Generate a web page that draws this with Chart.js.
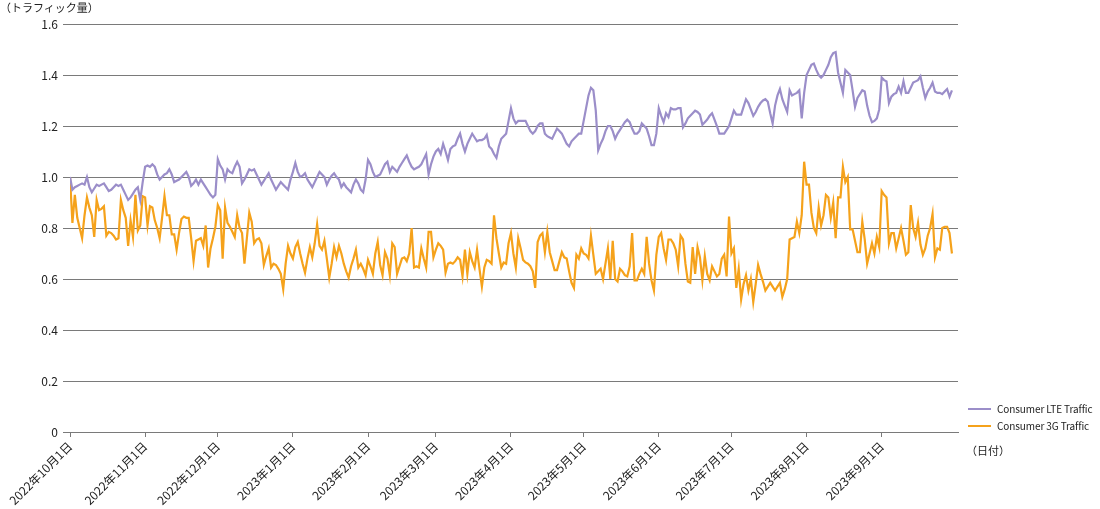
<!DOCTYPE html>
<html>
<head>
<meta charset="utf-8">
<script src="https://cdn.jsdelivr.net/npm/chart.js@4.4.1/dist/chart.umd.min.js"></script>
<style>
  html, body { margin: 0; padding: 0; background: #fff; }
  #wrap { position: relative; width: 1100px; height: 509px; font-family: "Noto Sans CJK JP", "Noto Sans", sans-serif; color: #222; }
  canvas { position: absolute; left: 0; top: 0; }
  .txt { position: absolute; font-size: 11px; white-space: nowrap; line-height: 14px; }
  .leg { position: absolute; left: 968px; font-size: 10px; letter-spacing: -0.1px; line-height: 14px; white-space: nowrap; }
  .leg span.sw { display: inline-block; width: 23px; height: 2px; vertical-align: middle; margin-right: 6px; position: relative; top: -1px; }
</style>
</head>
<body>
<div id="wrap">
  <canvas id="c" width="1100" height="509"></canvas>
  <div class="txt" style="left:0px; top:0px;">（トラフィック量）</div>
  <div class="leg" style="top:402px;"><span class="sw" style="background:#9b8ec9"></span>Consumer LTE Traffic</div>
  <div class="leg" style="top:419px;"><span class="sw" style="background:#f5a21b"></span>Consumer 3G Traffic</div>
  <div class="txt" style="left:966px; top:443px;">（日付）</div>
</div>
<script>
// Day index 0 = 2022-10-01 ... 364 = 2023-09-30
const monthTickDays = [0, 31, 61, 92, 123, 151, 182, 212, 243, 273, 304, 335];
const monthLabels = ['2022年10月1日', '2022年11月1日', '2022年12月1日', '2023年1月1日', '2023年2月1日', '2023年3月1日',
  '2023年4月1日', '2023年5月1日', '2023年6月1日', '2023年7月1日', '2023年8月1日', '2023年9月1日'];
const seriesNames = ['Consumer LTE Traffic', 'Consumer 3G Traffic'];

const lteOct = [1.00,0.95,0.96,0.965,0.97,0.975,0.97,1.00,0.96,0.94,0.955,0.97,0.965,0.97,0.975,0.96,0.945,0.95,0.96,0.97,0.965,0.97,0.95,0.93,0.91,0.92,0.935,0.95,0.96,0.91,0.98];
const lteNov = [1.04,1.045,1.04,1.05,1.04,1.01,0.99,1.00,1.01,1.015,1.03,1.01,0.98,0.985,0.99,1.00,1.01,1.02,1.00,0.965,0.975,0.99,0.97,0.99,0.975,0.96,0.945,0.93,0.92,0.93];
const lteDec = [1.07,1.045,1.03,0.99,1.03,1.02,1.015,1.04,1.06,1.04,0.975,0.99,1.01,1.03,1.025,1.03,1.01,0.99,0.97,0.985,1.00,1.015,0.99,0.97,0.95,0.965,0.98,0.97,0.96,0.95,0.99];
const lteJan = [1.02,1.055,1.02,1.00,1.005,1.015,0.99,0.975,0.96,0.98,1.00,1.02,1.01,1.00,0.97,0.99,1.005,1.015,1.00,0.99,0.96,0.975,0.96,0.95,0.94,0.97,0.99,0.975,0.95,0.94,0.99];
const lteFeb = [1.067,1.05,1.02,1.00,1.005,1.01,1.03,1.05,1.06,1.02,1.04,1.03,1.02,1.04,1.055,1.07,1.085,1.06,1.04,1.03,1.035,1.04,1.05,1.07,1.09,1.01,1.05,1.08];
const lteMar = [1.10,1.11,1.09,1.13,1.10,1.067,1.11,1.12,1.125,1.15,1.17,1.13,1.10,1.13,1.15,1.17,1.155,1.14,1.145,1.145,1.15,1.165,1.12,1.11,1.09,1.075,1.12,1.15,1.16,1.17,1.22];
const lteApr = [1.27,1.23,1.21,1.22,1.22,1.22,1.22,1.20,1.18,1.17,1.18,1.20,1.21,1.21,1.17,1.16,1.155,1.15,1.17,1.19,1.18,1.17,1.15,1.13,1.12,1.14,1.15,1.16,1.17,1.17];
const lteMay = [1.22,1.27,1.32,1.35,1.34,1.26,1.105,1.13,1.15,1.18,1.20,1.20,1.18,1.15,1.17,1.185,1.20,1.215,1.225,1.215,1.19,1.17,1.17,1.18,1.21,1.20,1.19,1.16,1.125,1.125,1.17];
const lteJun = [1.27,1.24,1.215,1.25,1.235,1.27,1.265,1.265,1.27,1.27,1.195,1.21,1.23,1.24,1.25,1.26,1.255,1.245,1.205,1.215,1.225,1.24,1.25,1.225,1.20,1.17,1.17,1.17,1.185,1.20];
const lteJul = [1.23,1.26,1.245,1.245,1.245,1.275,1.305,1.29,1.265,1.24,1.255,1.275,1.29,1.30,1.305,1.295,1.25,1.21,1.28,1.32,1.345,1.305,1.28,1.255,1.34,1.32,1.325,1.33,1.34,1.23,1.33];
const lteAug = [1.40,1.42,1.44,1.445,1.42,1.40,1.39,1.40,1.42,1.44,1.47,1.486,1.49,1.41,1.37,1.33,1.42,1.41,1.40,1.34,1.275,1.31,1.325,1.34,1.335,1.28,1.24,1.215,1.22,1.23,1.265];
const lteSep = [1.39,1.38,1.375,1.29,1.315,1.325,1.33,1.355,1.33,1.375,1.33,1.33,1.35,1.37,1.375,1.38,1.395,1.35,1.31,1.335,1.35,1.37,1.335,1.33,1.33,1.325,1.335,1.345,1.315,1.34];

const g3Oct = [1.00,0.82,0.93,0.84,0.80,0.76,0.85,0.92,0.88,0.85,0.765,0.91,0.87,0.875,0.885,0.77,0.785,0.78,0.77,0.755,0.76,0.91,0.87,0.84,0.73,0.83,0.765,0.93,0.79,0.81,0.925];
const g3Nov = [0.92,0.81,0.885,0.88,0.83,0.80,0.76,0.84,0.925,0.85,0.85,0.775,0.775,0.715,0.78,0.835,0.845,0.84,0.84,0.76,0.67,0.75,0.755,0.76,0.73,0.81,0.645,0.72,0.76,0.805];
const g3Dec = [0.89,0.87,0.68,0.88,0.82,0.805,0.785,0.765,0.85,0.80,0.78,0.66,0.76,0.86,0.825,0.74,0.755,0.76,0.74,0.655,0.69,0.72,0.645,0.66,0.655,0.64,0.62,0.56,0.66,0.73,0.70];
const g3Jan = [0.68,0.725,0.745,0.70,0.66,0.625,0.68,0.725,0.685,0.74,0.815,0.73,0.715,0.75,0.68,0.605,0.66,0.725,0.685,0.73,0.70,0.66,0.63,0.605,0.65,0.68,0.715,0.645,0.66,0.64,0.615];
const g3Feb = [0.675,0.65,0.62,0.70,0.745,0.655,0.615,0.705,0.68,0.615,0.74,0.725,0.62,0.65,0.68,0.685,0.67,0.70,0.80,0.645,0.65,0.645,0.72,0.68,0.645,0.785,0.785,0.685];
const g3Mar = [0.715,0.74,0.73,0.715,0.625,0.66,0.665,0.66,0.67,0.685,0.675,0.61,0.715,0.62,0.705,0.67,0.645,0.715,0.64,0.57,0.645,0.675,0.67,0.66,0.85,0.76,0.70,0.645,0.665,0.66,0.74];
const g3Apr = [0.78,0.70,0.645,0.76,0.72,0.675,0.665,0.66,0.65,0.63,0.565,0.745,0.77,0.78,0.705,0.785,0.705,0.67,0.635,0.635,0.67,0.705,0.685,0.68,0.63,0.585,0.565,0.695,0.68,0.72];
const g3May = [0.70,0.695,0.68,0.77,0.695,0.62,0.63,0.64,0.60,0.66,0.72,0.60,0.75,0.60,0.59,0.64,0.63,0.615,0.61,0.65,0.78,0.595,0.595,0.62,0.64,0.62,0.765,0.66,0.595,0.555,0.695];
const g3Jun = [0.765,0.78,0.72,0.675,0.755,0.755,0.74,0.715,0.65,0.77,0.755,0.66,0.59,0.585,0.725,0.62,0.725,0.685,0.595,0.69,0.62,0.595,0.65,0.63,0.61,0.62,0.68,0.695,0.61,0.845];
const g3Jul = [0.70,0.72,0.565,0.64,0.52,0.58,0.615,0.555,0.60,0.51,0.58,0.655,0.62,0.59,0.555,0.57,0.585,0.57,0.555,0.57,0.585,0.53,0.56,0.60,0.755,0.76,0.765,0.825,0.78,0.85,1.06];
const g3Aug = [0.97,0.97,0.86,0.80,0.78,0.88,0.81,0.85,0.93,0.92,0.84,0.90,0.76,0.92,0.92,1.04,0.98,1.00,0.795,0.795,0.75,0.705,0.705,0.825,0.755,0.66,0.70,0.74,0.70,0.765,0.725];
const g3Sep = [0.945,0.93,0.92,0.74,0.78,0.78,0.72,0.76,0.80,0.75,0.695,0.705,0.89,0.80,0.765,0.82,0.735,0.695,0.72,0.77,0.80,0.855,0.685,0.72,0.715,0.80,0.805,0.805,0.78,0.70];

const lteTraffic = [].concat(lteOct, lteNov, lteDec, lteJan, lteFeb, lteMar, lteApr, lteMay, lteJun, lteJul, lteAug, lteSep);
const g3Traffic = [].concat(g3Oct, g3Nov, g3Dec, g3Jan, g3Feb, g3Mar, g3Apr, g3May, g3Jun, g3Jul, g3Aug, g3Sep);
const dayIndex = lteTraffic.map((_, i) => i);

const yTickValues = [0, 0.2, 0.4, 0.6, 0.8, 1.0, 1.2, 1.4, 1.6];

const font = { family: '"Noto Sans CJK JP", "Noto Sans", sans-serif', size: 12 };
const gridColor = '#7a7a7a';

new Chart(document.getElementById('c'), {
  type: 'line',
  data: {
    labels: dayIndex,
    datasets: [
      { label: seriesNames[0], data: lteTraffic, borderColor: '#9b8ec9', backgroundColor: '#9b8ec9', borderWidth: 2.2, pointRadius: 0, tension: 0, fill: false },
      { label: seriesNames[1], data: g3Traffic, borderColor: '#f5a21b', backgroundColor: '#f5a21b', borderWidth: 2.2, pointRadius: 0, tension: 0, fill: false }
    ]
  },
  options: {
    responsive: false,
    animation: false,
    layout: { padding: { top: 24, right: 142, left: 0, bottom: 0 } },
    plugins: { legend: { display: false }, tooltip: { enabled: false } },
    scales: {
      x: {
        type: 'linear',
        min: 0,
        max: 366.5,
        afterBuildTicks: (s) => { s.ticks = monthTickDays.map(v => ({ value: v })); },
        afterFit: (s) => { s.height = 77; },
        ticks: {
          autoSkip: false, maxRotation: 45, minRotation: 45, padding: 2,
          color: '#222', font: font,
          callback: (v) => { const i = monthTickDays.indexOf(v); return i >= 0 ? monthLabels[i] : ''; }
        },
        grid: { drawOnChartArea: false, drawTicks: true, tickLength: 5, color: gridColor },
        border: { display: true, color: gridColor, width: 1 }
      },
      y: {
        min: 0,
        max: 1.6,
        afterBuildTicks: (s) => { s.ticks = yTickValues.map(v => ({ value: v })); },
        afterFit: (s) => { s.width = 70; },
        ticks: {
          color: '#222', font: font, padding: 5,
          callback: (v) => (v === 0 ? '0' : Number(v).toFixed(1))
        },
        grid: { color: gridColor, lineWidth: 1, tickLength: 7 },
        border: { display: false }
      }
    }
  }
});
</script>
</body>
</html>
